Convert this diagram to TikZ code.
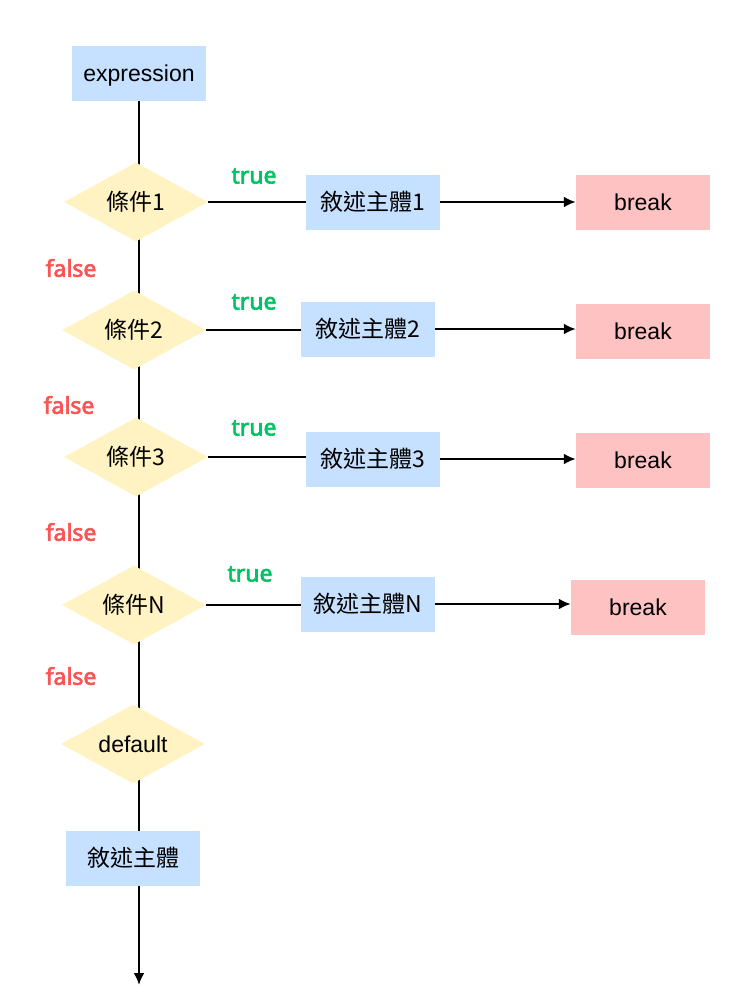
\documentclass[tikz,border=0pt]{standalone}
\usepackage{fontspec}
\setmainfont{Liberation Sans}
\newfontfamily\cjk{Noto Sans CJK TC}
\newfontfamily\lblfont{Noto Sans}[FakeBold=3]
\usetikzlibrary{shapes.geometric,arrows.meta,backgrounds}
\definecolor{boxblue}{RGB}{198,224,255}
\definecolor{brkpink}{RGB}{255,194,194}
\definecolor{dyellow}{RGB}{255,243,196}
\definecolor{tgreen}{RGB}{0,196,100}
\definecolor{fred}{RGB}{250,85,85}
\tikzset{
  txt/.style={font=\fontsize{23}{26}\selectfont,text height=19pt,text depth=2pt},
  stmt/.style={txt,rectangle,fill=boxblue,minimum width=134pt,minimum height=55pt,inner sep=0pt},
  brk/.style={txt,rectangle,fill=brkpink,minimum width=134pt,minimum height=55pt,inner sep=0pt},
  cond/.style={txt,diamond,aspect=1.82,fill=dyellow,minimum width=144pt,minimum height=79pt,inner sep=0pt},
  tlbl/.style={font=\lblfont\bfseries\fontsize{23}{26}\selectfont,text=tgreen},
  flbl/.style={font=\lblfont\bfseries\fontsize{23}{26}\selectfont,text=fred},
  line/.style={line width=2.5pt,black},
  arr/.style={line,-{Latex[length=12pt,width=11pt]}}
}
\begin{document}
\begin{tikzpicture}[x=1pt,y=-1pt]
\useasboundingbox (0,0) rectangle (741,1004);
\node[stmt] (expr) at (139,73) {expression};
\node[cond] (d1) at (136,202) {\cjk 條件1};
\node[stmt] (b1) at (373,202) {\cjk 敘述主體1};
\node[brk] (k1) at (643,202) {break};
\node[tlbl] (t1) at (254,176) {true};
\node[flbl] (f1) at (71,268) {false};
\node[cond] (d2) at (134,330) {\cjk 條件2};
\node[stmt] (b2) at (368,329) {\cjk 敘述主體2};
\node[brk] (k2) at (643,331) {break};
\node[tlbl] (t2) at (254,302) {true};
\node[flbl] (f2) at (69,405) {false};
\node[cond] (d3) at (136,457) {\cjk 條件3};
\node[stmt] (b3) at (373,459) {\cjk 敘述主體3};
\node[brk] (k3) at (643,460) {break};
\node[tlbl] (t3) at (254,428) {true};
\node[flbl] (f3) at (71,532) {false};
\node[cond] (dN) at (134,605) {\cjk 條件N};
\node[stmt] (bN) at (368,604) {\cjk 敘述主體N};
\node[brk] (kN) at (638,607) {break};
\node[tlbl] (tN) at (250,574) {true};
\node[flbl] (fN) at (71,676) {false};
\node[cond] (def) at (133,744) {default};
\node[stmt] (body) at (133,858) {\cjk 敘述主體};
\coordinate (end) at (139,985);
\begin{scope}[on background layer]
\draw[line] (expr.center) -- (expr |- d1.center) -- (expr |- d2.center) -- (expr |- d3.center) -- (expr |- dN.center) -- (expr |- def.center) -- (expr |- body.center);
\draw[arr] (expr |- body.center) -- (end);
\draw[line] (d1.east) -- (d1.east -| b1.west);
\draw[line] (d2.east) -- (d2.east -| b2.west);
\draw[line] (d3.east) -- (d3.east -| b3.west);
\draw[line] (dN.east) -- (dN.east -| bN.west);
\end{scope}
\draw[arr] (b1.east) -- (b1.east -| k1.west);
\draw[arr] (b2.east) -- (b2.east -| k2.west);
\draw[arr] (b3.east) -- (b3.east -| k3.west);
\draw[arr] (bN.east) -- (bN.east -| kN.west);
\end{tikzpicture}
\end{document}
